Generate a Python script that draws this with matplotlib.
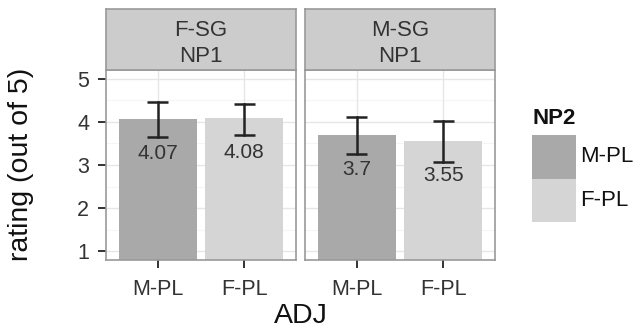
import matplotlib
matplotlib.use("Agg")
import matplotlib.pyplot as plt
from matplotlib.patches import Rectangle

plt.rcParams['font.family'] = ['Liberation Sans', 'DejaVu Sans']

facets = ["F-SG\nNP1", "M-SG\nNP1"]
categories = ["M-PL", "F-PL"]
means = [[4.07, 4.08], [3.70, 3.55]]
labels = [["4.07", "4.08"], ["3.7", "3.55"]]
err_lo = [[3.65, 3.70], [3.25, 3.07]]
err_hi = [[4.46, 4.42], [4.12, 4.01]]
colors = ["#a9a9a9", "#d5d5d5"]
yticks = [1, 2, 3, 4, 5]

W, H = 640, 328
fig = plt.figure(figsize=(W / 100, H / 100), dpi=100)

def rect(x0, y0, x1, y1):
    return [x0 / W, 1 - y1 / H, (x1 - x0) / W, (y1 - y0) / H]

border = "#999999"
txt = "#333333"
panels = [(106, 296), (305, 495)]
ptop, pbot, stop = 70, 260, 9

for i, (x0, x1) in enumerate(panels):
    ax = fig.add_axes(rect(x0, ptop, x1, pbot))
    ax.set_xlim(0.4, 2.6)
    ax.set_ylim(0.8, 5.2)
    for m in [1.5, 2.5, 3.5, 4.5]:
        ax.axhline(m, color="#f5f5f5", lw=0.8, zorder=0)
    for y in yticks:
        ax.axhline(y, color="#e6e6e6", lw=1.0, zorder=0)
    for xx in [1, 2]:
        ax.axvline(xx, color="#e6e6e6", lw=1.0, zorder=0)
    xs = [1, 2]
    ax.bar(xs, means[i], width=0.9, bottom=0, color=colors, zorder=2)
    for j in range(2):
        lo, hi = err_lo[i][j], err_hi[i][j]
        ax.plot([xs[j], xs[j]], [lo, hi], color="#222222", lw=1.8, zorder=3)
        for yy in (lo, hi):
            ax.plot([xs[j] - 0.12, xs[j] + 0.12], [yy, yy], color="#222222", lw=1.8, zorder=3,
                    solid_capstyle="butt")
        ax.text(xs[j], means[i][j] - 0.8, labels[i][j], ha="center", va="center",
                fontsize=15, color=txt, zorder=4)
    for s in ax.spines.values():
        s.set_color(border)
        s.set_linewidth(1.2)
    ax.set_xticks(xs)
    ax.set_xticklabels(categories, fontsize=15.5, color=txt)
    ax.tick_params(axis="x", length=6, width=1.4, color=txt, pad=8)
    if i == 0:
        ax.set_yticks(yticks)
        ax.set_yticklabels([str(v) for v in yticks], fontsize=15.5, color=txt)
        ax.tick_params(axis="y", length=6, width=1.4, color=txt, pad=6)
    else:
        ax.set_yticks(yticks)
        ax.tick_params(axis="y", length=0, labelleft=False)
    sax = fig.add_axes(rect(x0, stop, x1, ptop))
    sax.set_xticks([]); sax.set_yticks([])
    sax.set_facecolor("#cccccc")
    for s in sax.spines.values():
        s.set_color(border)
        s.set_linewidth(1.2)
    sax.text(0.5, 0.44, facets[i], ha="center", va="center", fontsize=16,
             color=txt, transform=sax.transAxes, linespacing=1.3)

fig.text(21 / W, 1 - 164 / H, "rating (out of 5)", rotation=90, ha="center", va="center",
         fontsize=20.5, color="#111111")
fig.text(301 / W, 1 - 316 / H, "ADJ", ha="center", va="center", fontsize=20.5, color="#111111")

fig.text(532 / W, 1 - 119 / H, "NP2", ha="left", va="center", fontsize=16,
         fontweight="bold", color="#111111")
lax = fig.add_axes([0, 0, 1, 1], facecolor="none")
lax.set_xlim(0, W); lax.set_ylim(H, 0); lax.axis("off")
keys = [(135, 178.5), (178.5, 222)]
for k, (y0, y1) in enumerate(keys):
    lax.add_patch(Rectangle((532, y0), 44, y1 - y0, facecolor=colors[k], edgecolor="none"))
    lax.text(580, (y0 + y1) / 2, categories[k], ha="left", va="center", fontsize=16,
             color="#111111")

fig.savefig("out.png", dpi=100)
